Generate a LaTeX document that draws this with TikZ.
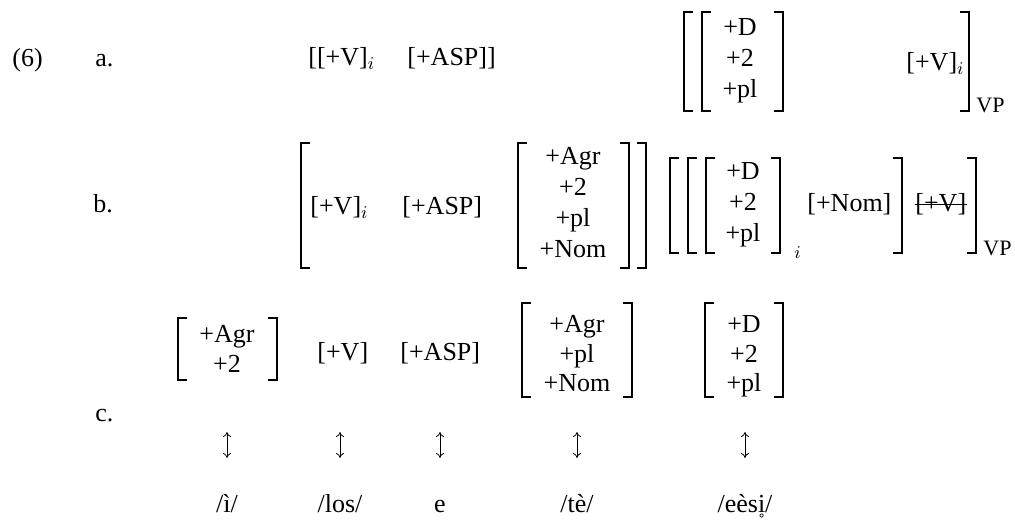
\documentclass[tikz,border=0pt]{standalone}
\usepackage{fontspec}
\setmainfont{Liberation Serif}
\usetikzlibrary{arrows.meta}
\newcommand\lbrk[3]{\draw[brk] (#1+8,#2) -- (#1,#2) -- (#1,#3) -- (#1+8,#3);}
\newcommand\rbrk[3]{\draw[brk] (#1-8,#2) -- (#1,#2) -- (#1,#3) -- (#1-8,#3);}
\newcommand\ringi{\ooalign{i\cr\hidewidth\smash{\raisebox{-0.62em}{\fontsize{10}{12}\selectfont\char"02DA}}\hidewidth\cr}}
\begin{document}
\begin{tikzpicture}[x=0.5pt,y=-0.5pt,
  txt/.style={inner sep=0pt, font=\fontsize{13}{15}\selectfont},
  sml/.style={inner sep=0pt, font=\fontsize{11}{13}\selectfont},
  brk/.style={line width=0.75pt, line cap=rect},
  corr/.style={line width=0.4pt, {Computer Modern Rightarrow[length=2.5pt,width=4pt]}-{Computer Modern Rightarrow[length=2.5pt,width=4pt]}}]
\useasboundingbox (0,0) rectangle (1015,523);

% ---------- (6) a.
\node[txt, anchor=base west] (num) at (12,67) {(6)};
\node[txt, anchor=base west] (la) at (95,67) {a.};
\node[txt, anchor=base west] (a1) at (308,66) {[[+V]$_i$};
\node[txt, anchor=base west] (a2) at (407,66) {[+ASP]]};
\lbrk{684}{12}{111}
\lbrk{702}{12}{111}
\node[txt, anchor=base] (aD) at (740,36) {+D};
\node[txt, anchor=base] (a2n) at (740,67) {+2};
\node[txt, anchor=base] (apl) at (740,98) {+pl};
\rbrk{783}{12}{111}
\node[txt, anchor=base west] (aV) at (906,71) {[+V]$_i$};
\rbrk{969}{12}{111}
\node[sml, anchor=base west] (aVP) at (976,113) {VP};

% ---------- b.
\node[txt, anchor=base west] (lb) at (93,213) {b.};
\lbrk{301}{143}{268}
\node[txt, anchor=base west] (b1) at (310,215) {[+V]$_i$};
\node[txt, anchor=base west] (b2) at (402,215) {[+ASP]};
\lbrk{518}{143}{268}
\node[txt, anchor=base] (bAgr) at (573,165) {+Agr};
\node[txt, anchor=base] (b2n) at (573,196) {+2};
\node[txt, anchor=base] (bpl) at (573,227) {+pl};
\node[txt, anchor=base] (bNom) at (573,258) {+Nom};
\rbrk{629}{143}{268}
\rbrk{646}{143}{268}
\lbrk{670}{158}{253}
\lbrk{688}{158}{253}
\lbrk{706}{158}{253}
\node[txt, anchor=base] (bD) at (743,180) {+D};
\node[txt, anchor=base] (bD2) at (743,211) {+2};
\node[txt, anchor=base] (bDpl) at (743,242) {+pl};
\rbrk{780}{158}{253}
\node[txt, anchor=base west] (bi) at (794,255) {$_i$};
\node[txt, anchor=base west] (bNom2) at (807,212) {[+Nom]};
\rbrk{902}{158}{253}
\node[txt, anchor=base west] (bV) at (915,212) {[+V]};
\draw[line width=0.7pt] (bV.west) -- (bV.east);
\rbrk{976}{158}{253}
\node[sml, anchor=base west] (bVP) at (983,256) {VP};

% ---------- c.
\node[txt, anchor=base west] (lc) at (95,421) {c.};
\lbrk{178}{318}{380}
\node[txt, anchor=base] (cAgr) at (227,342) {+Agr};
\node[txt, anchor=base] (c2) at (227,372) {+2};
\rbrk{277}{318}{380}
\node[txt, anchor=base west] (cV) at (317,360) {[+V]};
\node[txt, anchor=base west] (cASP) at (400,360) {[+ASP]};
\lbrk{522}{303}{397}
\node[txt, anchor=base] (cAgr2) at (577,332) {+Agr};
\node[txt, anchor=base] (cpl) at (577,362) {+pl};
\node[txt, anchor=base] (cNom) at (577,391) {+Nom};
\rbrk{632}{303}{397}
\lbrk{705}{303}{397}
\node[txt, anchor=base] (cD) at (744,332) {+D};
\node[txt, anchor=base] (cD2) at (744,362) {+2};
\node[txt, anchor=base] (cDpl) at (744,391) {+pl};
\rbrk{783}{303}{397}

\foreach \n/\x in {1/227,2/340,3/440,4/577,5/745}{
  \coordinate (u\n) at (\x,432);
  \coordinate (d\n) at (\x,458);
  \draw[corr] (u\n) -- (d\n);
}
\node[txt, anchor=base] (p1) at (227,512) {/ì/};
\node[txt, anchor=base] (p2) at (340,512) {/los/};
\node[txt, anchor=base] (p3) at (440,512) {e};
\node[txt, anchor=base] (p4) at (577,512) {/tè/};
\node[txt, anchor=base] (p5) at (745,512) {/eès\ringi/};
\end{tikzpicture}
\end{document}
